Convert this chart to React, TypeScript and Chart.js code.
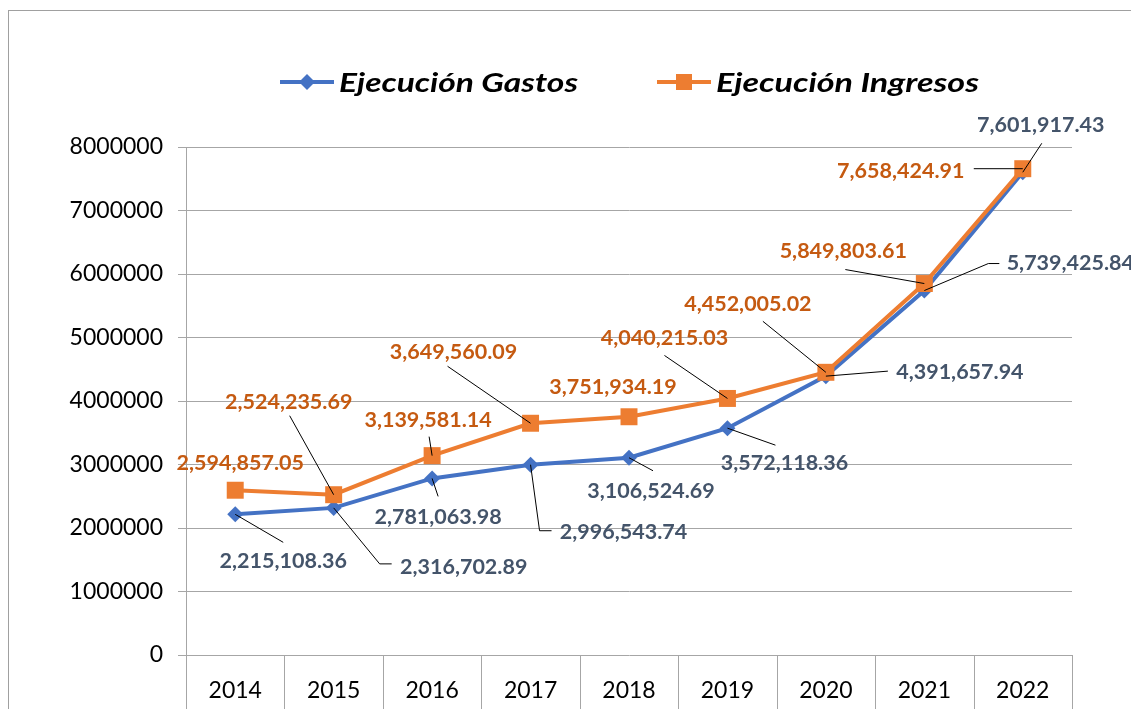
import React, { useEffect, useRef } from "react";
import { Chart, registerables } from "chart.js";

Chart.register(...registerables);

const years = ["2014", "2015", "2016", "2017", "2018", "2019", "2020", "2021", "2022"];
const gastos = [2215108.36, 2316702.89, 2781063.98, 2996543.74, 3106524.69, 3572118.36, 4391657.94, 5739425.84, 7601917.43];
const ingresos = [2594857.05, 2524235.69, 3139581.14, 3649560.09, 3751934.19, 4040215.03, 4452005.02, 5849803.61, 7658424.91];
const yTicks = [0, 1000000, 2000000, 3000000, 4000000, 5000000, 6000000, 7000000, 8000000];

// label placement (pixel offsets from each point)
const gastosLabelOffsets = [[48, 47], [130, 59], [6, 39], [93, 67], [22, 33], [57, 35], [134, -4], [146, -27], [18, -47]];
const gastosLeaders = [[[48, 28]], [[46, 56], [58, 56]], [[6, 18]], [[9, 66], [21, 66]], [[24, 13]], [[48, 17]], [[62, -5]], [[64, -27], [75, -27]], [[19, -29]]];
const ingresosLabelOffsets = [[5, -27], [-45, -93], [-4, -36], [-77, -71], [-16, -30], [-63, -60], [-78, -68], [-81, -32], [-122, 2]];
const ingresosLeaders = [[], [[-44, -79]], [[-3, -19]], [[-83, -57]], [], [[-63, -43]], [[-63, -51]], [[-79, -14]], [[-49, 0]]];

const BLUE = "#4472C4";
const ORANGE = "#ED7D31";
const BLUE_TXT = "#44546A";
const ORANGE_TXT = "#C55A11";
const GRID = "#a6a6a6";
const FONT = "Lato";

const fmt = (v: number) => v.toLocaleString("en-US", { minimumFractionDigits: 2, maximumFractionDigits: 2 });

const labelsPlugin = {
  id: "customLabels",
  afterDatasetsDraw(chart: any) {
    const ctx = chart.ctx;
    const sets = [
      { idx: 0, values: gastos, offs: gastosLabelOffsets, leaders: gastosLeaders, color: BLUE_TXT },
      { idx: 1, values: ingresos, offs: ingresosLabelOffsets, leaders: ingresosLeaders, color: ORANGE_TXT },
    ];
    ctx.save();
    for (const s of sets) {
      const meta = chart.getDatasetMeta(s.idx);
      meta.data.forEach((pt: any, i: number) => {
        const x = pt.x, y = pt.y;
        const lead = s.leaders[i];
        if (lead.length) {
          ctx.beginPath();
          ctx.strokeStyle = "#000";
          ctx.lineWidth = 1;
          ctx.moveTo(x, y);
          for (const p of lead) ctx.lineTo(x + p[0], y + p[1]);
          ctx.stroke();
        }
        ctx.fillStyle = s.color;
        ctx.font = `bold 21.5px ${FONT}`;
        ctx.textAlign = "center";
        ctx.textBaseline = "middle";
        ctx.fillText(fmt(s.values[i]), x + s.offs[i][0], y + s.offs[i][1]);
      });
    }
    ctx.restore();
  },
  afterDraw(chart: any) {
    const ctx = chart.ctx;
    const xs = chart.scales.x;
    const area = chart.chartArea;
    const step = xs.getPixelForValue(1) - xs.getPixelForValue(0);
    ctx.save();
    ctx.strokeStyle = GRID;
    ctx.lineWidth = 1;
    for (let i = 0; i <= years.length; i++) {
      const px = Math.round(xs.getPixelForValue(0) - step / 2 + i * step) + 0.5;
      ctx.beginPath();
      ctx.moveTo(px, area.bottom);
      ctx.lineTo(px, chart.height);
      ctx.stroke();
    }
    // legend
    const ly = 71;
    const items = [
      { x: 271, w: 239, label: "Ejecución Gastos", color: BLUE, style: "diamond" },
      { x: 648, w: 263, label: "Ejecución Ingresos", color: ORANGE, style: "square" },
    ];
    for (const it of items) {
      ctx.strokeStyle = it.color;
      ctx.lineWidth = 4;
      ctx.beginPath();
      ctx.moveTo(it.x, ly);
      ctx.lineTo(it.x + 54, ly);
      ctx.stroke();
      ctx.fillStyle = it.color;
      const cx = it.x + 27;
      if (it.style === "diamond") {
        ctx.beginPath();
        ctx.moveTo(cx - 8, ly);
        ctx.lineTo(cx, ly - 8);
        ctx.lineTo(cx + 8, ly);
        ctx.lineTo(cx, ly + 8);
        ctx.closePath();
        ctx.fill();
      } else {
        ctx.fillRect(cx - 8, ly - 8, 16, 16);
      }
      ctx.fillStyle = "#000";
      ctx.font = `italic bold 27px ${FONT}`;
      ctx.textAlign = "left";
      ctx.textBaseline = "middle";
      const tw = ctx.measureText(it.label).width;
      const sx = it.w / tw;
      ctx.save();
      ctx.translate(it.x + 59, ly + 1);
      ctx.scale(sx, 1);
      ctx.fillText(it.label, 0, 0);
      ctx.restore();
    }
    ctx.restore();
  },
};

export default function App() {
  const ref = useRef<HTMLCanvasElement | null>(null);
  useEffect(() => {
    if (!ref.current) return;
    const chart = new Chart(ref.current, {
      type: "line",
      data: {
        labels: years,
        datasets: [
          {
            label: "Ejecución Gastos",
            data: gastos,
            borderColor: BLUE,
            backgroundColor: BLUE,
            borderWidth: 4,
            pointStyle: "rectRot",
            pointRadius: 8,
            pointBorderWidth: 0,
            order: 1,
          },
          {
            label: "Ejecución Ingresos",
            data: ingresos,
            borderColor: ORANGE,
            backgroundColor: ORANGE,
            borderWidth: 4,
            pointStyle: "rect",
            pointRadius: 12,
            pointBorderWidth: 0,
            order: 0,
          },
        ],
      },
      options: {
        responsive: false,
        animation: false,
        layout: { padding: { top: 136, left: 0, right: 59, bottom: 0 } },
        plugins: { legend: { display: false }, tooltip: { enabled: false } },
        scales: {
          x: {
            type: "category",
            offset: true,
            grid: { display: false },
            border: { display: false },
            ticks: { font: { family: FONT, size: 23 }, color: "#000", padding: 14, maxRotation: 0 },
            afterFit: (s: any) => { s.height = 54; },
          },
          y: {
            min: 0,
            max: 8000000,
            afterBuildTicks: (s: any) => { s.ticks = yTicks.map((v) => ({ value: v })); },
            grid: { color: GRID, tickLength: 8, lineWidth: 1 },
            border: { display: true, color: GRID },
            ticks: { font: { family: FONT, size: 23 }, color: "#000", padding: 15, callback: (v: any) => String(v) },
            afterFit: (s: any) => { s.width = 177; },
          },
        },
      },
      plugins: [labelsPlugin],
    });
    return () => chart.destroy();
  }, []);
  return (
    <div
      style={{
        position: "fixed",
        left: 8,
        top: 10,
        width: 1123,
        height: 699,
        borderLeft: "1px solid #a0a0a0",
        borderTop: "1px solid #a0a0a0",
        boxSizing: "border-box",
        background: "#fff",
        overflow: "hidden",
      }}
    >
      <canvas ref={ref} width={1122} height={698} style={{ display: "block", width: 1122, height: 698 }} />
    </div>
  );
}
